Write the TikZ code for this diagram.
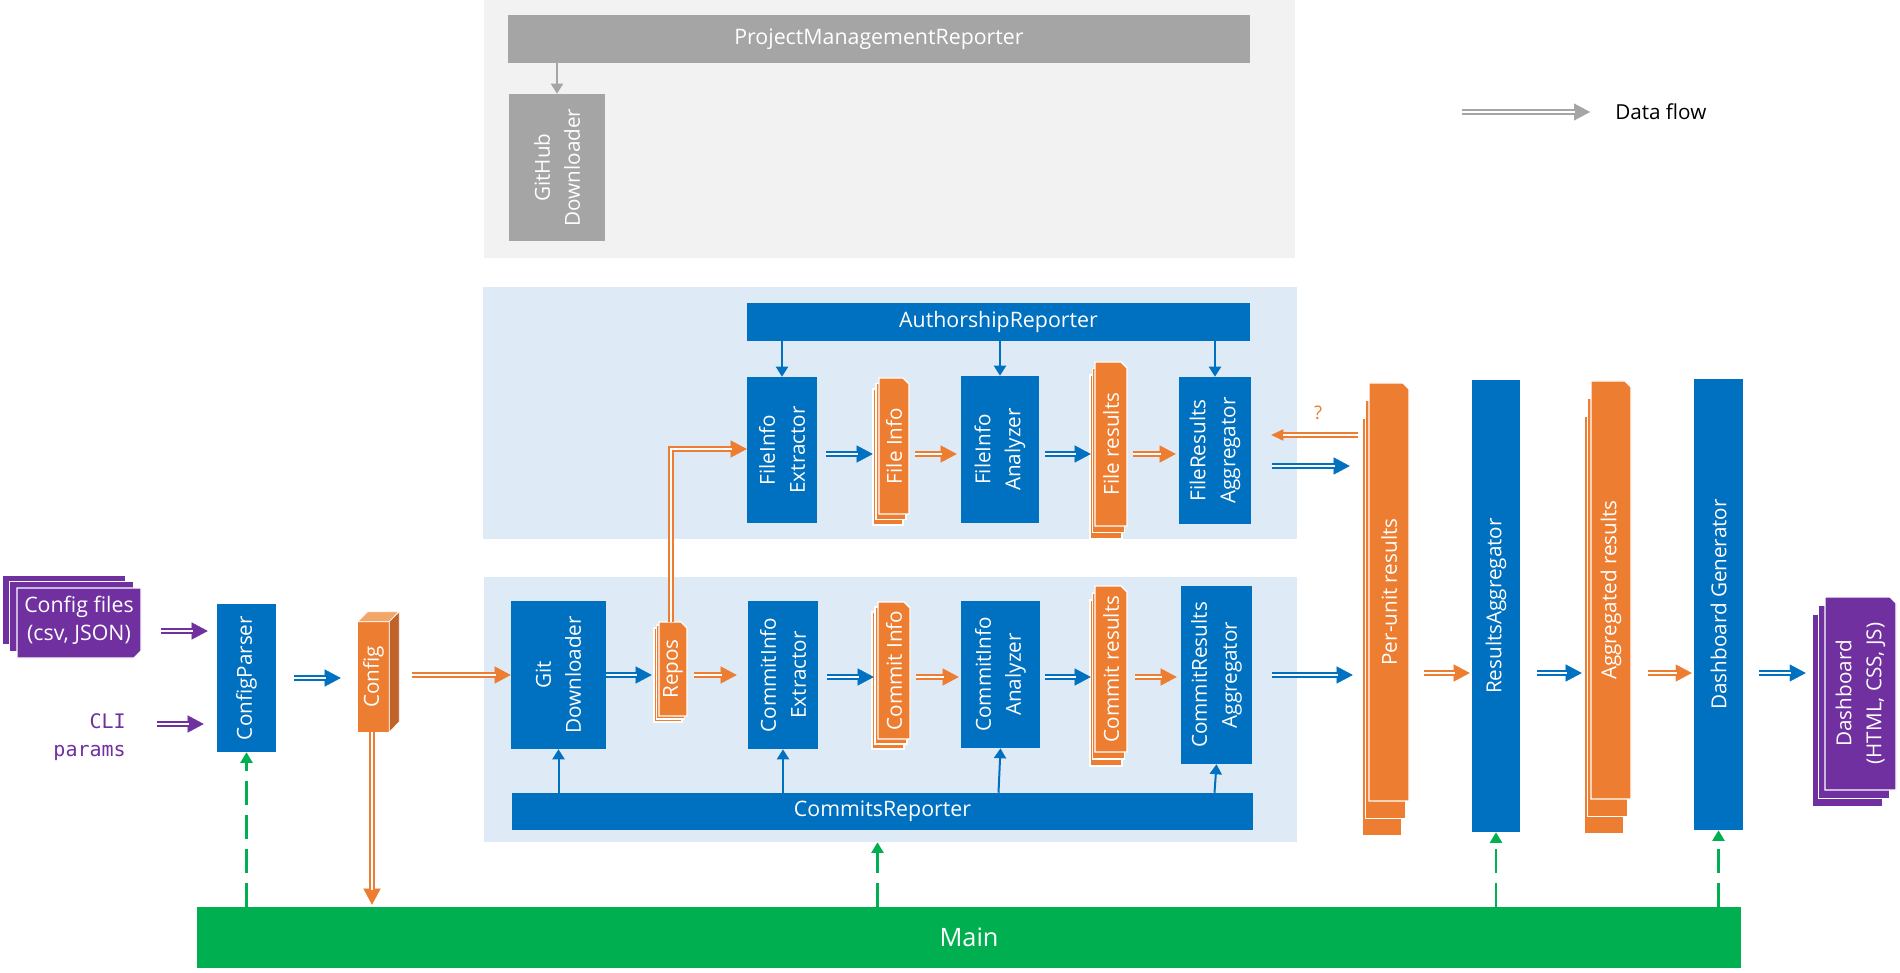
\documentclass[tikz,border=0pt]{standalone}
\usepackage{fontspec}
\setmainfont{Open Sans}
\newfontfamily\codefont{DejaVu Sans Mono}
\usetikzlibrary{arrows.meta,fit,calc}

\definecolor{cblue}{HTML}{0070C0}
\definecolor{corange}{HTML}{ED7D31}
\definecolor{corangeL}{HTML}{F3A66A}
\definecolor{corangeD}{HTML}{C0622A}
\definecolor{cpurple}{HTML}{7030A0}
\definecolor{cgreen}{HTML}{00B050}
\definecolor{cgray}{HTML}{A5A5A5}
\definecolor{pgray}{HTML}{F2F2F2}
\definecolor{pblue}{HTML}{DEEBF7}

% double-line data flow: arrow tip drawn first, the shortened double line on top
\newcommand\dflow[2]{%
  \draw[#1, line width=0.3pt, -{Triangle[length=12pt,width=12.75pt]}] #2;
  \draw[#1, line width=1.5pt, double=white, double distance=1.5pt, shorten >=11.4pt] #2;}
\newcommand\dflowS[2]{%
  \draw[#1, line width=0.3pt, -{Triangle[length=9pt,width=8.5pt]}] #2;
  \draw[#1, line width=1.5pt, double=white, double distance=1.5pt, shorten >=8.5pt] #2;}

% stack of pages: name, x1, y1, x2, y2 of the front page, offset per page, colour
\newcommand\docstack[8]{%
  \foreach \k in {2,1}{%
    \filldraw[fill=#8, draw=white, line width=0.9pt]
      ({#2+\k*(#6)},{#3+\k*(#7)}) rectangle ({#4+\k*(#6)},{#5+\k*(#7)});
  }
  \filldraw[fill=#8, draw=white, line width=0.9pt]
    (#2,#3) -- ({#4-6},#3) -- (#4,{#3+6}) -- (#4,#5) -- (#2,#5) -- cycle;
  \node[fit={(#2,#3) (#4,#5)}, inner sep=0pt] (#1) {};
}

\begin{document}
\begin{tikzpicture}[x=0.75pt, y=-0.75pt,
  blk/.style={fill=#1, inner sep=0pt},
  vlab/.style={rotate=90, text=white, align=center, inner sep=0pt,
    font=\fontsize{15.5}{22.5}\selectfont},
  barlab/.style={text=white, inner sep=0pt, font=\fontsize{16}{19}\selectfont},
  sarrow/.style={draw=#1, line width=1.5pt, -{Triangle[length=7.5pt,width=9pt]}},
  gdash/.style={draw=cgreen, line width=1.9pt, dash pattern=on 18pt off 7.5pt,
    -{Triangle[length=8pt,width=9pt]}},
]
\useasboundingbox (0,0) rectangle (1900,973);
\fill[white] (0,0) rectangle (1900,973);

% row levels of the horizontal flows
\coordinate (rowA) at (0,631);
\coordinate (rowB) at (0,724);
\coordinate (rowC) at (0,678);
\coordinate (rowD) at (0,675);
\coordinate (rowE) at (0,449);
\coordinate (rowF) at (0,677);
\coordinate (rowG) at (0,454);
\coordinate (rowH) at (0,466);
\coordinate (rowQ) at (0,435);
\coordinate (rowR) at (0,673);

% ---------- panels ----------
\node[blk=pgray, fit={(484,0) (1295,258)}] (pmpanel) {};
\node[blk=pblue, fit={(483,287) (1297,539)}] (arpanel) {};
\node[blk=pblue, fit={(484,577) (1297,842)}] (crpanel) {};

% ---------- project management ----------
\node[blk=cgray, fit={(508,15) (1250,63)}] (pmr) {};
\node[barlab] at (pmr) {ProjectManagementReporter};
\node[blk=cgray, fit={(509,94) (605,241)}] (ghdl) {};
\node[vlab] at (ghdl) {GitHub\\Downloader};
\draw[sarrow=cgray] (pmr.south -| ghdl.north) -- (ghdl.north);

% ---------- authorship ----------
\node[blk=cblue, fit={(747,303) (1250,341)}] (ar) {};
\node[barlab] at (ar) {AuthorshipReporter};
\node[blk=cblue, fit={(747,377) (817,523)}] (fie) {};
\node[vlab] at (fie) {FileInfo\\Extractor};
\docstack{finfo}{879}{378}{909}{514}{-3}{5.5}{corange}
\node[vlab] at (finfo) {File Info};
\node[blk=cblue, fit={(961,376) (1039,523)}] (fia) {};
\node[vlab] at (fia) {FileInfo\\Analyzer};
\docstack{fres}{1095}{362}{1127}{526}{-2.5}{6.5}{corange}
\node[vlab] at (fres) {File results};
\node[blk=cblue, fit={(1179,377) (1251,524)}] (fra) {};
\node[vlab] at (fra) {FileResults\\Aggregator};

% ---------- commits ----------
\node[blk=cblue, fit={(512,793) (1253,830)}] (cr) {};
\node[barlab] at (cr) {CommitsReporter};
\node[blk=cblue, fit={(511,601) (606,749)}] (gitdl) {};
\node[vlab] at (gitdl) {Git\\Downloader};
\docstack{repos}{659}{622}{687}{716}{-2.5}{3}{corange}
\node[vlab] at (repos) {Repos};
\node[blk=cblue, fit={(748,601) (818,749)}] (cie) {};
\node[vlab] at (cie) {CommitInfo\\Extractor};
\docstack{cinfo}{878}{602}{910}{739}{-3}{5}{corange}
\node[vlab] at (cinfo) {Commit Info};
\node[blk=cblue, fit={(961,601) (1040,748)}] (cia) {};
\node[vlab] at (cia) {CommitInfo\\Analyzer};
\docstack{cres}{1095}{586}{1127}{752}{-2.5}{7}{corange}
\node[vlab] at (cres) {Commit results};
\node[blk=cblue, fit={(1181,586) (1252,764)}] (cra) {};
\node[vlab] at (cra) {CommitResults\\Aggregator};

% ---------- results and dashboard ----------
\docstack{pu}{1369}{383}{1409}{801}{-3.5}{17.5}{corange}
\node[vlab] at (pu) {Per-unit results};
\node[blk=cblue, fit={(1472,380) (1520,832)}] (ra) {};
\node[vlab] at (ra) {ResultsAggregator};
\docstack{agg}{1591}{381}{1631}{799}{-3.5}{17.5}{corange}
\node[vlab] at (agg) {Aggregated results};
\node[blk=cblue, fit={(1694,379) (1743,830)}] (dg) {};
\node[vlab] at (dg) {Dashboard Generator};
\docstack{dash}{1825}{597}{1896}{790}{-6.5}{8.5}{cpurple}
\node[vlab] at (dash) {Dashboard\\(HTML, CSS, JS)};

% ---------- inputs and configuration ----------
\foreach \k in {2,1}{%
  \filldraw[fill=cpurple, draw=white, line width=0.9pt]
    ({17-7.5*\k},{588-6.5*\k}) rectangle ({141-7.5*\k},{658-6.5*\k});
}
\filldraw[fill=cpurple, draw=white, line width=0.9pt]
  (17,588) -- (141,588) -- (141,651) -- (134,658) -- (17,658) -- cycle;
\node[fit={(17,588) (141,658)}, inner sep=0pt] (cfiles) {};
\node[text=white, align=center, inner sep=0pt, font=\fontsize{16}{21}\selectfont]
  at (79,620) {Config files\\(csv, JSON)};

\node[anchor=east, align=right, inner sep=0pt, text=cpurple,
  font=\codefont\fontsize{15}{21}\selectfont] (cli) at (126,737) {CLI\\params};

\node[blk=cblue, fit={(217,604) (276,752)}] (cp) {};
\node[vlab] at (cp) {ConfigParser};

\node[blk=corange, fit={(358,622) (389,732)}] (cfg) {};
\filldraw[fill=corangeL, draw=white, line width=0.5pt]
  (cfg.north west) -- ++(10,-10) -- ++(31,0) -- (cfg.north east) -- cycle;
\filldraw[fill=corangeD, draw=white, line width=0.5pt]
  (cfg.north east) -- ++(10,-10) -- ++(0,110) -- (cfg.south east) -- cycle;
\node[vlab] at (cfg) {Config};

% ---------- main ----------
\node[blk=cgreen, fit={(197,907) (1741,968)}] (main) {};
\node[text=white, inner sep=0pt, font=\fontsize{19}{22}\selectfont] at (main) {Main};

% ---------- reporter calls ----------
\draw[sarrow=cblue] (ar.south -| fie.north) -- (fie.north);
\draw[sarrow=cblue] (ar.south -| fia.north) -- (fia.north);
\draw[sarrow=cblue] (ar.south -| fra.north) -- (fra.north);
\draw[sarrow=cblue] (cr.north -| gitdl.south) -- (gitdl.south);
\draw[sarrow=cblue] (cr.north -| cie.south) -- (cie.south);
\draw[sarrow=cblue] ($(cr.north -| cia.south)+(-2,0)$) -- (cia.south);
\draw[sarrow=cblue] ($(cr.north -| cra.south)+(-2,0)$) -- (cra.south);

% ---------- calls from main ----------
\draw[gdash] (main.north -| cp.south) -- (cp.south);
\draw[gdash] ($(main.north -| cr.south)+(-5,0)$) -- ($(cr.south |- crpanel.south)+(-5,0)$);
\draw[gdash] (main.north -| ra.south) -- (ra.south);
\draw[gdash] (main.north -| dg.south) -- (dg.south);

% ---------- data flows ----------
\dflow{cpurple}{($(cfiles.east|-rowA)+(20,0)$) -- ($(cp.west|-rowA)+(-9,0)$)}
\dflow{cpurple}{($(cli.east|-rowB)+(31,0)$) -- ($(cp.west|-rowB)+(-13,0)$)}
\dflow{cblue}{($(cp.east|-rowC)+(18,0)$) -- ($(cfg.west|-rowC)+(-17,0)$)}
\dflow{corange}{($(cfg.east|-rowD)+(23,0)$) -- (gitdl.west|-rowD)}
\dflow{corange}{($(cfg.south)+(-1.5,0)$) -- ($(main.north-|cfg.south)+(-1.5,-2)$)}

\dflow{cblue}{(gitdl.east|-rowD) -- ($(repos.west|-rowD)+(-7,0)$)}
\dflow{corange}{($(repos.east|-rowD)+(7,0)$) -- ($(cie.west|-rowD)+(-11,0)$)}
\dflow{corange}{($(repos.north)+(-2,0)$) |- (fie.west|-rowE)}
\dflow{cblue}{($(cie.east|-rowF)+(9,0)$) -- ($(cinfo.west|-rowF)+(-4,0)$)}
\dflow{corange}{($(cinfo.east|-rowF)+(6,0)$) -- ($(cia.west|-rowF)+(-2,0)$)}
\dflow{cblue}{($(cia.east|-rowF)+(5,0)$) -- ($(cres.west|-rowF)+(-4,0)$)}
\dflow{corange}{($(cres.east|-rowF)+(8,0)$) -- ($(cra.west|-rowF)+(-4,0)$)}
\dflow{cblue}{($(cra.east|-rowD)+(20,0)$) -- ($(pu.west|-rowD)+(-16,0)$)}

\dflow{cblue}{($(fie.east|-rowG)+(9,0)$) -- ($(finfo.west|-rowG)+(-6,0)$)}
\dflow{corange}{($(finfo.east|-rowG)+(6,0)$) -- ($(fia.west|-rowG)+(-4,0)$)}
\dflow{cblue}{($(fia.east|-rowG)+(6,0)$) -- ($(fres.west|-rowG)+(-4,0)$)}
\dflow{corange}{($(fres.east|-rowG)+(6,0)$) -- ($(fra.west|-rowG)+(-3,0)$)}
\dflow{cblue}{($(fra.east|-rowH)+(21,0)$) -- ($(pu.west|-rowH)+(-19,0)$)}
\dflowS{corange}{($(pu.west|-rowQ)+(-11,0)$) -- ($(fra.east|-rowQ)+(20,0)$)}
\node[text=corange, inner sep=0pt, font=\fontsize{14}{16}\selectfont] (qmark) at (1318,413) {?};

\dflow{corange}{($(pu.east|-rowR)+(15,0)$) -- ($(ra.west|-rowR)+(-2,0)$)}
\dflow{cblue}{($(ra.east|-rowR)+(17,0)$) -- ($(agg.west|-rowR)+(-9,0)$)}
\dflow{corange}{($(agg.east|-rowR)+(17,0)$) -- ($(dg.west|-rowR)+(-2,0)$)}
\dflow{cblue}{($(dg.east|-rowR)+(16,0)$) -- ($(dash.west|-rowR)+(-19,0)$)}

% ---------- legend ----------
\coordinate (legA) at (1462,112);
\coordinate (legB) at (1590,112);
\dflow{cgray}{(legA) -- (legB)}
\node[anchor=west, inner sep=0pt, font=\fontsize{15.5}{18}\selectfont] (legtext) at (1615,112) {Data flow};
\end{tikzpicture}
\end{document}
